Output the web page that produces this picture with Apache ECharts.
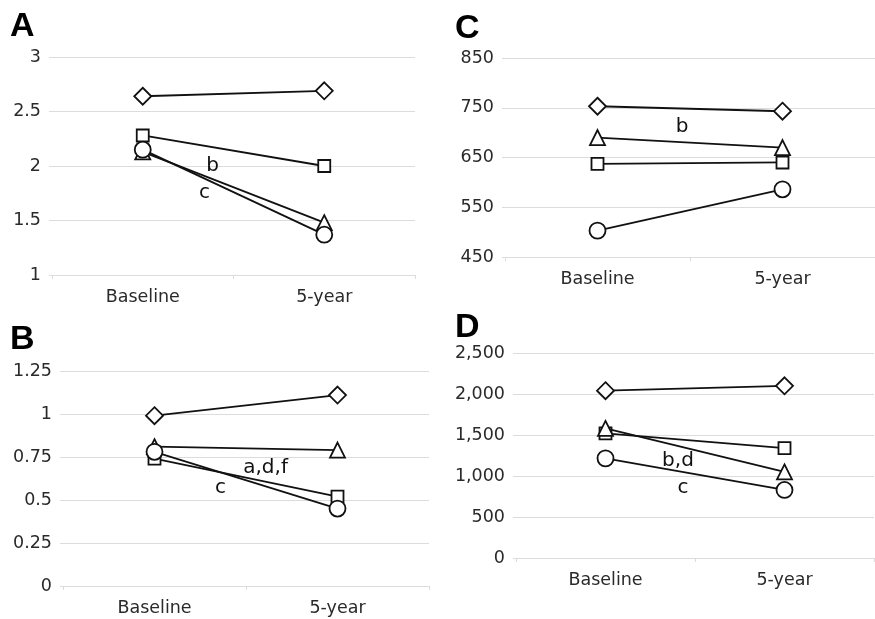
<!DOCTYPE html>
<html>
<head>
<meta charset="utf-8">
<script src="https://cdn.jsdelivr.net/npm/echarts@6/dist/echarts.min.js"></script>
<style>
html,body{margin:0;padding:0;background:#fff;}
#c{width:875px;height:619px;}
</style>
</head>
<body>
<div id="c"></div>
<script>
// ---- data ----
const categories = ['Baseline', '5-year'];

const A_diamond  = [2.64, 2.69];
const A_square   = [2.28, 2.00];
const A_triangle = [2.13, 1.48];
const A_circle   = [2.15, 1.37];

const B_diamond  = [0.99, 1.11];
const B_square   = [0.74, 0.52];
const B_triangle = [0.81, 0.79];
const B_circle   = [0.78, 0.45];

const C_diamond  = [753, 743];
const C_square   = [637, 640];
const C_triangle = [690, 670];
const C_circle   = [503, 586];

const D_diamond  = [2040, 2100];
const D_square   = [1520, 1340];
const D_triangle = [1580, 1050];
const D_circle   = [1215, 830];

const A_ticks = [1, 1.5, 2, 2.5, 3];
const B_ticks = [0, 0.25, 0.5, 0.75, 1, 1.25];
const C_ticks = [450, 550, 650, 750, 850];
const D_ticks = [0, 500, 1000, 1500, 2000, 2500];

const panelLetters = ['A', 'B', 'C', 'D'];
// annotations: [text, fraction between categories, value]
const A_notes = [['b', 0.385, 2.0], ['c', 0.34, 1.75]];
const B_notes = [['a,d,f', 0.607, 0.686], ['c', 0.36, 0.57]];
const C_notes = [['b', 0.457, 711]];
const D_notes = [['b,d', 0.405, 1187], ['c', 0.433, 857]];

// ---- layout ----
const grids = [
  {left: 52,  top: 57,  width: 363, height: 218},  // A
  {left: 63,  top: 371, width: 366, height: 215},  // B
  {left: 505, top: 58,  width: 370, height: 199},  // C
  {left: 516, top: 353, width: 358, height: 205}   // D
];
const ticks = [A_ticks, B_ticks, C_ticks, D_ticks];
const seriesSets = [
  [A_diamond, A_square, A_triangle, A_circle],
  [B_diamond, B_square, B_triangle, B_circle],
  [C_diamond, C_square, C_triangle, C_circle],
  [D_diamond, D_square, D_triangle, D_circle]
];
const notes = [A_notes, B_notes, C_notes, D_notes];
const letterPos = [[10, 27], [10, 340], [455, 29], [455, 328]];

const symbols = [
  {symbol: 'diamond', size: [17, 17]},
  {symbol: 'rect', size: [12, 12]},
  {symbol: 'triangle', size: [15, 15]},
  {symbol: 'circle', size: 16}
];

const fontFam = '"DejaVu Sans", Verdana, sans-serif';
const gridColor = '#dcdcdc';

const xAxes = [], yAxes = [], series = [];
grids.forEach((g, i) => {
  const t = ticks[i];
  const mn = t[0], mx = t[t.length - 1], iv = t[1] - t[0];
  xAxes.push({
    type: 'category', gridIndex: i, data: categories, boundaryGap: true,
    axisLine: {show: true, lineStyle: {color: gridColor, width: 1}},
    axisTick: {show: true, length: 4, lineStyle: {color: gridColor}},
    axisLabel: {color: '#2a2a2a', fontSize: 17.5, fontFamily: fontFam, margin: 13},
    splitLine: {show: false}
  });
  yAxes.push({
    type: 'value', gridIndex: i, min: mn, max: mx, interval: iv,
    axisLine: {show: false},
    axisTick: {show: true, length: 3, lineStyle: {color: gridColor}},
    axisLabel: {
      color: '#2a2a2a', fontSize: 17.5, fontFamily: fontFam, margin: 11,
      formatter: v => (i === 3 ? v.toLocaleString('en-US') : String(v))
    },
    splitLine: {show: true, lineStyle: {color: gridColor, width: 1}}
  });
  seriesSets[i].forEach((d, k) => {
    series.push({
      type: 'line', xAxisIndex: i, yAxisIndex: i, data: d,
      symbol: symbols[k].symbol, symbolSize: symbols[k].size,
      showAllSymbol: true, z: 2 + k,
      lineStyle: {color: '#111', width: 1.8},
      itemStyle: {color: '#fff', borderColor: '#111', borderWidth: 1.8},
      emphasis: {disabled: true},
      animation: false
    });
  });
});

const chart = echarts.init(document.getElementById('c'), null, {renderer: 'canvas'});
chart.setOption({
  backgroundColor: '#fff',
  animation: false,
  grid: grids.map(g => Object.assign({containLabel: false}, g)),
  xAxis: xAxes,
  yAxis: yAxes,
  series: series
});

// graphic texts: panel letters and annotations positioned through the axes
const graphics = [];
panelLetters.forEach((L, gi) => {
  graphics.push({
    type: 'text', left: letterPos[gi][0], top: letterPos[gi][1] - 17,
    style: {text: L, fontSize: 34, fontWeight: 'bold', fontFamily: '"Liberation Sans", Arial, sans-serif', fill: '#000'}
  });
});
notes.forEach((list, gi) => {
  list.forEach(n => {
    const p0 = chart.convertToPixel({gridIndex: gi}, [0, n[2]]);
    const p1 = chart.convertToPixel({gridIndex: gi}, [1, n[2]]);
    const x = p0[0] + (p1[0] - p0[0]) * n[1];
    graphics.push({
      type: 'text', x: x, y: p0[1],
      style: {text: n[0], fontSize: 20, fontFamily: fontFam, fill: '#111', align: 'center', verticalAlign: 'middle'}
    });
  });
});
chart.setOption({graphic: graphics});
</script>
</body>
</html>
